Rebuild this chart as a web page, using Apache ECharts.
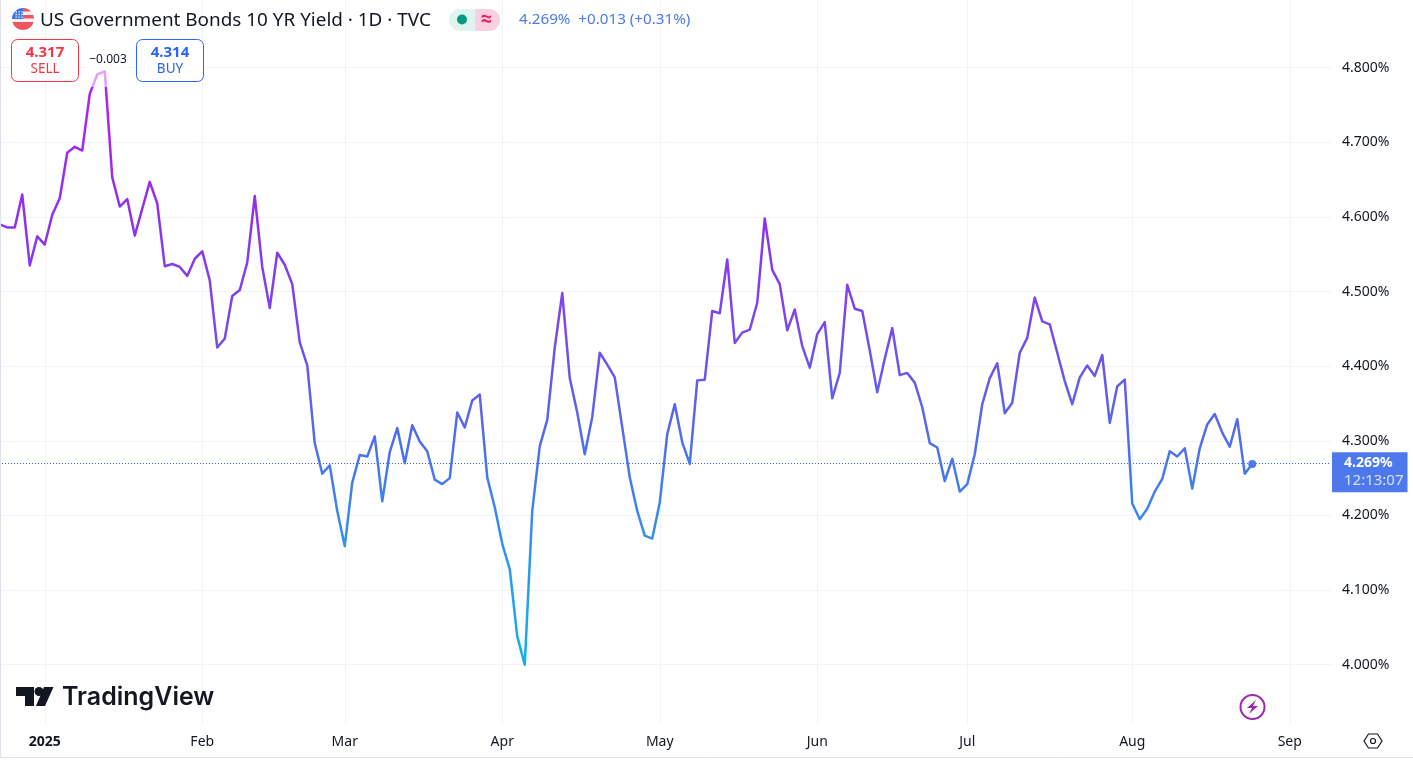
<!DOCTYPE html>
<html><head><meta charset="utf-8">
<style>html,body{margin:0;padding:0;background:#fff}#c{width:1413px;height:761px}</style>
<script src="https://cdn.jsdelivr.net/npm/echarts@6/dist/echarts.min.js"></script>
</head><body><div id="c"></div>
<script>
const yields=[4.590,4.586,4.586,4.630,4.535,4.574,4.563,4.603,4.625,4.686,4.694,4.689,4.765,4.791,4.795,4.653,4.614,4.624,4.575,4.611,4.647,4.618,4.534,4.537,4.533,4.521,4.544,4.554,4.515,4.425,4.437,4.494,4.502,4.539,4.628,4.533,4.478,4.552,4.536,4.510,4.432,4.401,4.297,4.256,4.267,4.206,4.159,4.244,4.281,4.279,4.306,4.219,4.285,4.317,4.270,4.321,4.299,4.286,4.248,4.242,4.250,4.338,4.318,4.354,4.362,4.251,4.211,4.162,4.128,4.038,4.000,4.206,4.293,4.328,4.425,4.498,4.384,4.338,4.282,4.332,4.418,4.402,4.385,4.318,4.251,4.206,4.173,4.169,4.217,4.309,4.349,4.298,4.269,4.381,4.382,4.474,4.471,4.543,4.431,4.445,4.449,4.485,4.598,4.529,4.510,4.448,4.476,4.427,4.398,4.443,4.459,4.357,4.391,4.509,4.477,4.474,4.421,4.365,4.410,4.451,4.388,4.391,4.378,4.345,4.297,4.291,4.246,4.276,4.232,4.242,4.282,4.349,4.384,4.404,4.337,4.351,4.418,4.438,4.492,4.460,4.456,4.418,4.380,4.349,4.385,4.401,4.387,4.415,4.324,4.373,4.382,4.216,4.195,4.209,4.232,4.249,4.286,4.279,4.290,4.236,4.290,4.322,4.336,4.311,4.292,4.329,4.256,4.269];
const monthIndex=[6,27,46,67,88,109,129,151,172];
const monthLabels=['2025','Feb','Mar','Apr','May','Jun','Jul','Aug','Sep'];
const slotCount=178;
const lastPrice=4.269;
const countdown='12:13:07';
const titleText='US Government Bonds 10 YR Yield · 1D · TVC';
const quoteText='4.269%  +0.013 (+0.31%)';
const FONT='"Noto Sans", Roboto, sans-serif';
const INK='#131722', GRID='#f0f3fa', BLUE='#4d79ec';

const categories=Array.from({length:slotCount},(_,i)=>{const k=monthIndex.indexOf(i);return k>=0?monthLabels[k]:'s'+i;});
const chart=echarts.init(document.getElementById('c'),null,{renderer:'canvas'});
const txt=(x,y,text,size,color,extra)=>({type:'text',z:110,silent:true,style:Object.assign({x,y,text,font:`${size}px ${FONT}`,fill:color,textVerticalAlign:'middle'},extra||{})});
const poly=(points,style,z)=>({type:'polygon',z:z||105,silent:true,shape:{points},style});
// horizontal band of the flag's disc, as a polygon
const band=(cx,cy,r,y0,y1,xmin)=>{
 const L=[],R=[];
 for(let k=0;k<=10;k++){const y=y0+(y1-y0)*k/10;const dx=Math.sqrt(Math.max(0,r*r-(y-cy)*(y-cy)));
  L.push([Math.max(cx-dx,xmin===undefined?cx-dx:xmin),y]);R.unshift([cx+dx,y]);}
 return L.concat(R);
};
const dots=[];
for(let r=0;r<3;r++)for(let c=0;c<3;c++)dots.push({type:'rect',z:108,silent:true,shape:{x:15.5+c*2.9,y:11.2+r*2.6,width:1.4,height:1.4},style:{fill:'#ffffff'}});
chart.setOption({
 animation:false,
 backgroundColor:'#ffffff',
 textStyle:{fontFamily:FONT},
 grid:{left:-4,width:1335,top:-6.9,height:746.2,containLabel:false,outerBoundsMode:'none'},
 xAxis:{type:'category',data:categories,boundaryGap:true,
  axisLine:{show:false},axisTick:{show:false},splitLine:{show:false},
  axisLabel:{show:true,margin:-4,color:INK,fontSize:14,fontFamily:FONT,hideOverlap:false,
   interval:(i)=>monthIndex.includes(i),
   formatter:(v)=>v==='2025'?'{b|2025}':v,
   rich:{b:{fontWeight:'bold',fontSize:14,color:INK,fontFamily:FONT}}}},
 yAxis:{type:'value',position:'right',min:3.9,max:4.9,interval:0.1,
  axisLine:{show:false},axisTick:{show:false},
  splitLine:{show:true,showMinLine:false,showMaxLine:false,lineStyle:{color:GRID,width:1}},
  axisLabel:{margin:11,color:INK,fontSize:14,fontFamily:FONT,showMinLabel:false,showMaxLabel:false,
   formatter:(v)=>v.toFixed(3)+'%'}},
 series:[
  {type:'line',z:1,data:[],silent:true,
   markLine:{z:0,silent:true,symbol:'none',animation:false,label:{show:false},
    lineStyle:{color:GRID,width:1,type:'solid'},
    data:monthIndex.map(i=>[{coord:[i,3.921]},{coord:[i,4.9]}])}},
  {type:'line',z:3,data:yields,showSymbol:false,smooth:false,silent:true,clip:false,
   lineStyle:{width:2.5,cap:'round',join:'round',color:{type:'linear',x:0,y:0,x2:0,y2:1,colorStops:[
    {offset:0,color:'#b81ef2'},{offset:.245,color:'#9030ec'},{offset:.43,color:'#7a48ee'},
    {offset:.62,color:'#4f6eea'},{offset:.81,color:'#2f95ee'},{offset:1,color:'#0db4e6'}]}},
   markPoint:{silent:true,animation:false,symbol:'circle',symbolSize:8,itemStyle:{color:BLUE},label:{show:false},
    data:[{coord:[yields.length-1,lastPrice]}]},
   markLine:{z:2,silent:true,symbol:'none',animation:false,
    lineStyle:{color:'#3f5fd8',width:1,type:[1,2]},
    label:{show:true,position:'end',distance:1,offset:[0,9],
     formatter:`{a|${lastPrice.toFixed(3)}%}\n{b|${countdown}}`,
     backgroundColor:BLUE,padding:[2,4,2,12],
     rich:{a:{color:'#fff',fontWeight:'bold',fontSize:14,lineHeight:18,fontFamily:FONT},
           b:{color:'#d5e0fb',fontSize:15,lineHeight:18,fontFamily:FONT}}},
    data:[{yAxis:lastPrice}]}}
 ],
 graphic:{elements:[
  {type:'rect',z:100,silent:true,shape:{x:85,y:60,width:45,height:27},style:{fill:'rgba(255,255,255,0.58)'}},
  {type:'line',z:100,silent:true,shape:{x1:0.5,y1:0,x2:0.5,y2:757},style:{stroke:'#e0e3eb',lineWidth:1}},
  {type:'line',z:100,silent:true,shape:{x1:0,y1:757.5,x2:1413,y2:757.5},style:{stroke:'#e0e3eb',lineWidth:1}},
  // flag
  {type:'circle',z:105,silent:true,shape:{cx:23,cy:19,r:11},style:{fill:'#f2f2f2'}},
  poly(band(23,19,11,8,11.5,23),{fill:'#f0555f'},106),
  poly(band(23,19,11,15,18.5,23),{fill:'#f0555f'},106),
  poly(band(23,19,11,22,30),{fill:'#f0555f'},106),
  {type:'sector',z:107,silent:true,shape:{cx:23,cy:19,r:11,r0:0,startAngle:Math.PI,endAngle:1.5*Math.PI},style:{fill:'#3d73e6'}},
  ...dots,
  // title
  txt(40,20.5,titleText,18.9,INK),
  // pill
  {type:'rect',z:105,silent:true,shape:{x:449,y:9,width:26,height:22,r:[11,0,0,11]},style:{fill:'#dff3ef'}},
  {type:'rect',z:105,silent:true,shape:{x:475,y:9,width:25,height:22,r:[0,11,11,0]},style:{fill:'#f8d0df'}},
  {type:'circle',z:106,silent:true,shape:{cx:462,cy:19.5,r:5},style:{fill:'#089981'}},
  txt(486.5,19.5,'≈',20,'#e91e63',{textAlign:'center',font:`bold 20px ${FONT}`}),
  txt(519,20,quoteText,15.2,BLUE),
  // sell / buy
  {type:'rect',z:105,silent:true,shape:{x:11.5,y:39.5,width:67,height:42,r:6},style:{fill:'#fff',stroke:'#f23645',lineWidth:1}},
  txt(45,52.5,'4.317',15,'#f23645',{textAlign:'center',font:`bold 15px ${FONT}`}),
  txt(45,69.5,'SELL',13.5,'#f23645',{textAlign:'center'}),
  {type:'rect',z:105,silent:true,shape:{x:136.5,y:39.5,width:67,height:42,r:6},style:{fill:'#fff',stroke:'#2962ff',lineWidth:1}},
  txt(170,52.5,'4.314',15,'#2962ff',{textAlign:'center',font:`bold 15px ${FONT}`}),
  txt(170,69.5,'BUY',13.5,'#2962ff',{textAlign:'center'}),
  txt(108,59.5,'−0.003',12,INK,{textAlign:'center'}),
  // logo
  poly([[16,687],[34,687],[34,706],[25,706],[25,696],[16,696]],{fill:INK}),
  poly([[44,687],[53.5,687],[45,706],[36,706]],{fill:INK}),
  {type:'circle',z:105,silent:true,shape:{cx:39,cy:691.5,r:4.5},style:{fill:INK}},
  txt(62,697,'TradingView',25,INK,{font:`600 25px Inter, ${FONT}`}),
  // bolt
  {type:'circle',z:105,silent:true,shape:{cx:1252.5,cy:707,r:12},style:{fill:'#fff',stroke:'#9c27b0',lineWidth:2}},
  poly([[1256,700],[1247,708],[1252,708],[1249,714],[1258,706],[1253,706]],{fill:'#9c27b0'},106),
  // gear
  poly([[1368.5,734],[1377.5,734],[1382,741],[1377.5,748],[1368.5,748],[1364,741]],{fill:'none',stroke:INK,lineWidth:1.2}),
  {type:'circle',z:105,silent:true,shape:{cx:1373,cy:741,r:2.5},style:{fill:'none',stroke:INK,lineWidth:1.2}}
 ]}
});
</script></body></html>
